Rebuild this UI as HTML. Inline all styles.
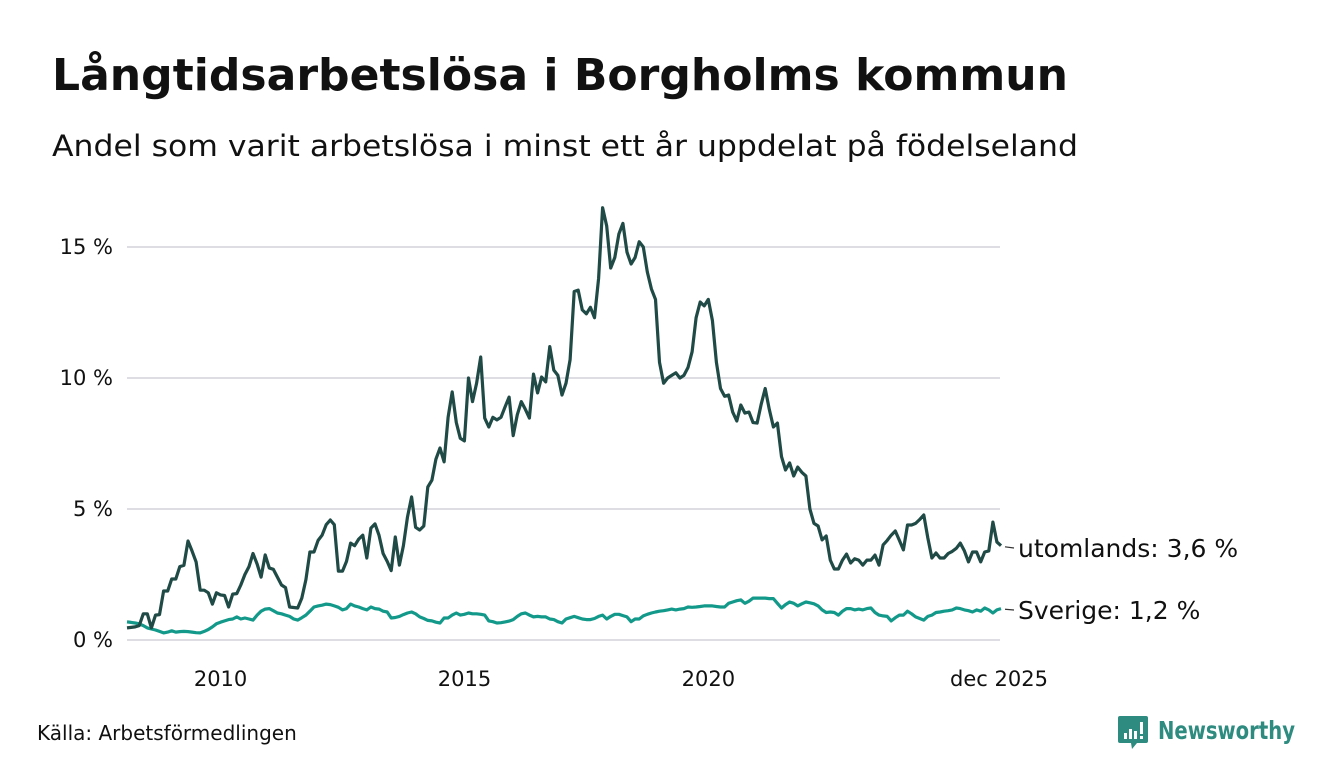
<!DOCTYPE html>
<html><head><meta charset="utf-8"><style>
html,body{margin:0;padding:0;background:#fff;}
svg{display:block;font-family:"DejaVu Sans","Liberation Sans",sans-serif;}
</style></head><body>
<svg id="chart" width="1340" height="780" viewBox="0 0 1340 780" xmlns="http://www.w3.org/2000/svg">
<text x="52" y="90" font-size="44" font-weight="bold" fill="#111" textLength="1016" lengthAdjust="spacingAndGlyphs">Långtidsarbetslösa i Borgholms kommun</text>
<text x="52" y="156" font-size="29" fill="#111" textLength="1026" lengthAdjust="spacingAndGlyphs">Andel som varit arbetslösa i minst ett år uppdelat på födelseland</text>
<g id="grid"></g>
<g id="yticks"></g>
<g id="xticks"></g>
<g id="series"></g>
<text x="37" y="740" font-size="20" fill="#111">Källa: Arbetsförmedlingen</text>
<g>
<path d="M1120,716 h26 a2,2 0 0 1 2,2 v23 a2,2 0 0 1 -2,2 h-9 l-5,6 l-1,-6 h-11 a2,2 0 0 1 -2,-2 v-23 a2,2 0 0 1 2,-2z" fill="#2e8b7f"/>
<rect x="1124" y="733" width="3" height="6" fill="#fff"/><rect x="1129" y="729" width="3" height="10" fill="#fff"/><rect x="1134" y="731" width="3" height="8" fill="#fff"/><rect x="1140" y="722" width="3" height="12" fill="#fff"/><rect x="1140" y="736" width="3" height="3" fill="#fff"/>
<text x="1158" y="739" font-size="25" font-weight="bold" fill="#2e8b7f" textLength="137" lengthAdjust="spacingAndGlyphs">Newsworthy</text>
</g>
</svg>
<script>
const abroadValues = [
0.46,0.48,0.5,0.55,1.0,1.0,0.46,0.95,0.97,1.87,1.87,2.33,
2.33,2.8,2.85,3.78,3.4,2.98,1.9,1.9,1.8,1.37,1.8,1.72,
1.7,1.26,1.75,1.77,2.1,2.5,2.8,3.3,2.9,2.4,3.25,2.75,
2.7,2.4,2.1,2.0,1.26,1.24,1.22,1.6,2.3,3.36,3.36,3.8,
4.0,4.4,4.58,4.4,2.63,2.63,3.0,3.7,3.6,3.85,4.0,3.13,
4.27,4.43,4.0,3.3,3.0,2.65,3.93,2.86,3.6,4.7,5.46,4.3,
4.2,4.35,5.84,6.1,6.9,7.33,6.8,8.5,9.47,8.3,7.7,7.6,
10.0,9.1,9.8,10.8,8.47,8.13,8.5,8.4,8.5,8.9,9.27,7.8,
8.6,9.1,8.8,8.47,10.15,9.43,10.04,9.85,11.2,10.3,10.1,9.35,
9.8,10.7,13.3,13.35,12.6,12.45,12.7,12.3,13.8,16.5,15.8,14.2,
14.6,15.5,15.9,14.8,14.35,14.6,15.2,15.0,14.05,13.4,13.0,10.6,
9.8,10.0,10.1,10.2,10.0,10.1,10.4,11.0,12.3,12.9,12.75,13.0,
12.2,10.6,9.6,9.3,9.35,8.7,8.36,8.97,8.66,8.7,8.3,8.28,
9.0,9.6,8.8,8.13,8.28,7.0,6.49,6.76,6.26,6.6,6.4,6.26,
5.0,4.45,4.35,3.82,3.97,3.05,2.71,2.71,3.05,3.28,2.94,3.1,
3.05,2.86,3.05,3.05,3.24,2.86,3.63,3.8,4.0,4.16,3.8,3.44,
4.39,4.39,4.45,4.6,4.77,3.9,3.13,3.32,3.13,3.13,3.3,3.38,
3.5,3.7,3.4,2.98,3.36,3.36,2.98,3.36,3.4,4.5,3.74,3.6];
const swedenValues = [
0.69,0.67,0.65,0.62,0.55,0.46,0.42,0.38,0.33,0.27,0.3,0.35,
0.3,0.32,0.33,0.32,0.3,0.28,0.27,0.33,0.4,0.5,0.62,0.68,
0.73,0.78,0.8,0.88,0.8,0.84,0.8,0.76,0.95,1.1,1.18,1.2,
1.12,1.03,1.0,0.95,0.9,0.8,0.76,0.85,0.95,1.1,1.26,1.3,
1.33,1.37,1.35,1.3,1.25,1.15,1.2,1.37,1.3,1.26,1.2,1.15,
1.26,1.2,1.18,1.1,1.07,0.84,0.86,0.9,0.97,1.03,1.07,1.0,
0.88,0.82,0.75,0.73,0.68,0.65,0.84,0.84,0.95,1.03,0.95,0.98,
1.03,1.0,1.0,0.98,0.95,0.73,0.7,0.65,0.66,0.69,0.72,0.78,
0.9,1.0,1.03,0.95,0.88,0.9,0.88,0.88,0.8,0.78,0.7,0.65,
0.8,0.85,0.9,0.85,0.8,0.78,0.78,0.82,0.9,0.95,0.8,0.9,
0.98,0.98,0.93,0.88,0.7,0.8,0.8,0.92,0.98,1.03,1.07,1.1,
1.12,1.15,1.18,1.15,1.18,1.2,1.26,1.25,1.26,1.28,1.3,1.3,
1.3,1.28,1.26,1.26,1.4,1.45,1.5,1.53,1.4,1.48,1.6,1.6,
1.6,1.6,1.58,1.58,1.4,1.22,1.35,1.45,1.4,1.3,1.38,1.45,
1.42,1.38,1.3,1.15,1.05,1.07,1.05,0.95,1.1,1.2,1.2,1.15,
1.18,1.15,1.2,1.22,1.05,0.95,0.92,0.9,0.73,0.85,0.95,0.95,
1.1,1.0,0.88,0.82,0.76,0.9,0.95,1.05,1.07,1.1,1.12,1.15,
1.22,1.2,1.15,1.12,1.07,1.15,1.1,1.22,1.15,1.03,1.15,1.2];
const startYear = 2008;
const yTickValues = [0,5,10,15];
const yTickLabels = ["0 %","5 %","10 %","15 %"];
const xTickMonths = [24,84,144,215];
const xTickLabels = ["2010","2015","2020","dec 2025"];
const seriesLabels = ["utomlands","Sverige"];

const NS="http://www.w3.org/2000/svg";
const X0=127,X1=1001,Y0=640,PX_PER_PCT=26.2;
const nMonths=abroadValues.length;
function xScale(i){return X0+(X1-X0)*i/(nMonths-1);}
function yScale(v){return Y0-v*PX_PER_PCT;}
function mk(tag,attrs,parent){const e=document.createElementNS(NS,tag);for(const k in attrs)e.setAttribute(k,attrs[k]);parent.appendChild(e);return e;}
const grid=document.getElementById('grid'),yt=document.getElementById('yticks'),xt=document.getElementById('xticks'),sg=document.getElementById('series');
yTickValues.forEach((v,k)=>{
  const l=mk('line',{x1:X0,x2:1000,y1:yScale(v),y2:yScale(v),stroke:'#dddde3','stroke-width':2},grid);
  
  
  const t=mk('text',{x:113,y:yScale(v)+7,'text-anchor':'end','font-size':21,fill:'#111'},yt);
  t.textContent=yTickLabels[k];
  
  
});
xTickMonths.forEach((m,k)=>{
  const t=mk('text',{x:xScale(m)-(k===3?2:4),y:686,'text-anchor':'middle','font-size':21,fill:'#111'},xt);
  t.textContent=xTickLabels[k];
  
  
});
function drawLine(vals,color,name){
  const d=vals.map((v,i)=>(i?'L':'M')+xScale(i).toFixed(1)+','+yScale(v).toFixed(1)).join(' ');
  const p=mk('path',{d:d,fill:'none',stroke:color,'stroke-width':3.2,'stroke-linejoin':'round'},sg);
  
  
}
drawLine(swedenValues,'#13998a','line-sverige');
drawLine(abroadValues,'#1f4a45','line-utomlands');
function fmt(v){return v.toFixed(1).replace('.',',')+' %';}
const lastA=abroadValues[nMonths-1],lastS=swedenValues[nMonths-1];
[[lastA,seriesLabels[0],548,'label-utomlands'],[lastS,seriesLabels[1],610,'label-sverige']].forEach(([v,lab,ly,nm])=>{
  const ln=mk('line',{x1:1005,x2:1014,y1:(yScale(v)+ly)/2,y2:ly,stroke:'#333','stroke-width':1.2},sg);
  
  
  const t=mk('text',{x:1018,y:ly+9,'font-size':25,fill:'#111'},sg);
  t.textContent=lab+': '+fmt(v);
  
  
});
</script>
</body></html>
